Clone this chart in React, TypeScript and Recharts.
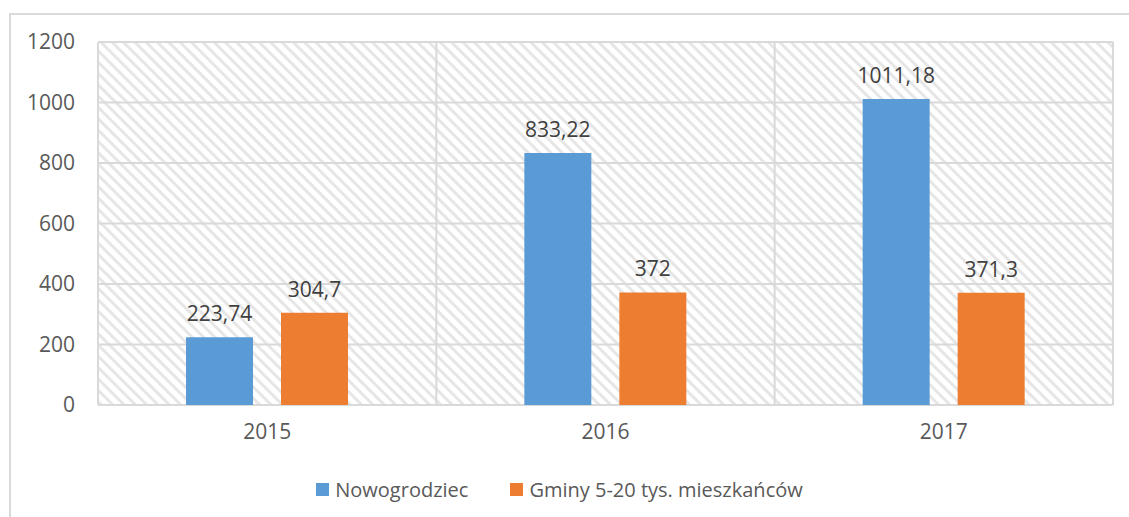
import { BarChart, Bar, XAxis, YAxis, CartesianGrid, LabelList } from 'recharts';

const years = ['2015', '2016', '2017'];
const nowogrodziec = [223.74, 833.22, 1011.18];
const gminy = [304.7, 372, 371.3];
const yTicks = [0, 200, 400, 600, 800, 1000, 1200];

const seriesNames = ['Nowogrodziec', 'Gminy 5-20 tys. mieszkańców'];
const colors = ['#5B9BD5', '#ED7D31'];

const data = years.map((year, i) => ({ year, a: nowogrodziec[i], b: gminy[i] }));

const FONT = '"Open Sans", "Noto Sans", sans-serif';

const fmt = (v: any) => String(v).replace('.', ',');

function LegendBox() {
  return (
    <div
      style={{
        position: 'absolute',
        top: 476,
        left: 0,
        width: 1129,
        display: 'flex',
        justifyContent: 'center',
        gap: 42,
        fontFamily: FONT,
        fontSize: 20,
        color: '#595959',
        paddingRight: 10,
        boxSizing: 'border-box',
      }}
    >
      {seriesNames.map((name, i) => (
        <div key={name} style={{ display: 'flex', alignItems: 'center', gap: 6 }}>
          <span style={{ width: 13, height: 13, background: colors[i], display: 'inline-block' }} />
          <span>{name}</span>
        </div>
      ))}
    </div>
  );
}

export default function App() {
  return (
    <div style={{ position: 'absolute', left: 0, top: 0, width: 1129, height: 517, background: '#fff', overflow: 'hidden' }}>
      {/* outer chart frame */}
      <div
        style={{
          position: 'absolute',
          left: 9,
          top: 13,
          width: 1140,
          height: 520,
          borderLeft: '2px solid #d9d9d9',
          borderTop: '2px solid #d9d9d9',
        }}
      />
      <BarChart
        width={1129}
        height={517}
        data={data}
        margin={{ top: 42, right: 16, left: 0, bottom: 0 }}
        barGap={28}
        barSize={67}
        style={{ position: 'absolute', left: 0, top: 0 }}
      >
        <defs>
          <pattern id="hatch" width="8" height="8" patternUnits="userSpaceOnUse" patternTransform="rotate(-45)">
            <rect width="8" height="8" fill="#ffffff" />
            <rect width="3" height="8" fill="#e6e6e6" />
          </pattern>
        </defs>
        <CartesianGrid
          fill="url(#hatch)"
          stroke="#d9d9d9"
          strokeWidth={2}
          verticalCoordinatesGenerator={({ offset }: any) =>
            [0, 1, 2, 3].map((i) => offset.left + (i * offset.width) / years.length)
          }
        />
        <XAxis
          dataKey="year"
          axisLine={false}
          tickLine={false}
          tickSize={0}
          tickMargin={19}
          height={112}
          tick={{ fill: '#595959', fontSize: 21, fontFamily: FONT }}
        />
        <YAxis
          domain={[0, 1200]}
          ticks={yTicks}
          axisLine={false}
          tickLine={false}
          tickSize={0}
          tickMargin={23}
          width={98}
          tick={{ fill: '#595959', fontSize: 21, fontFamily: FONT }}
        />
        <Bar dataKey="a" fill={colors[0]} isAnimationActive={false}>
          <LabelList dataKey="a" position="top" offset={16} formatter={fmt} fill="#404040" fontSize={21} fontFamily={FONT} />
        </Bar>
        <Bar dataKey="b" fill={colors[1]} isAnimationActive={false}>
          <LabelList dataKey="b" position="top" offset={16} formatter={fmt} fill="#404040" fontSize={21} fontFamily={FONT} />
        </Bar>
      </BarChart>
      <LegendBox />
    </div>
  );
}
